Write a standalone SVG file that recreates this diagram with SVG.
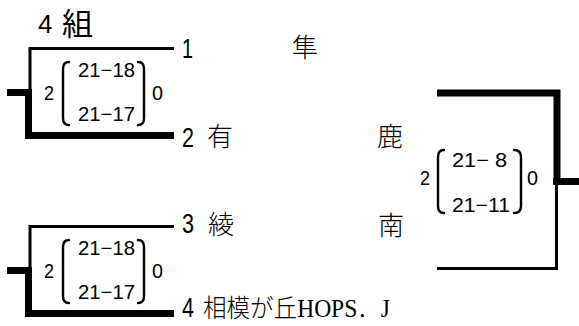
<svg xmlns="http://www.w3.org/2000/svg" width="579" height="326" viewBox="0 0 579 326">
<style>
.bg{fill:#fff}
.thin{fill:none;stroke:#000;stroke-width:3;stroke-linecap:butt;stroke-linejoin:miter}
.thick{fill:none;stroke:#000;stroke-width:7;stroke-linecap:butt;stroke-linejoin:miter}
.br{fill:none;stroke:#000;stroke-width:2.4;stroke-linecap:round}
.num{font-family:"Liberation Sans","Noto Sans CJK JP",sans-serif;font-size:28px;fill:#000}
.name{font-family:"Noto Sans CJK JP","Liberation Sans",sans-serif;font-size:26px;font-weight:300;fill:#000}
.mincho{font-family:"Liberation Serif","Noto Sans CJK JP",serif;font-size:25px;font-weight:300;fill:#000}
.sc{font-family:"Liberation Sans","Noto Sans CJK JP",sans-serif;font-size:20px;fill:#000}
.t4{font-family:"Liberation Sans",sans-serif;font-size:26px}
.tk{font-family:"Noto Sans CJK JP",sans-serif;font-size:31px}
</style>
<rect class="bg" x="0" y="0" width="579" height="326"/>
<g id="title">
<text x="38 62" y="33" fill="#000"><tspan class="t4">4</tspan><tspan class="tk" y="35">組</tspan></text>
</g>
<g id="connectors">
<path class="thin" d="M174 48.5H30V92"/>
<path class="thick" d="M28.5 89V135.5H174"/>
<path class="thick" d="M7 92.5H32"/>
<path class="thin" d="M174 226.5H30V270"/>
<path class="thick" d="M28.5 267V313.5H174"/>
<path class="thick" d="M7 270.5H32"/>
<path class="thick" d="M437 93H557V185"/>
<path class="thick" d="M553 181.5H579"/>
<path class="thin" d="M556.5 181V268.5H437"/>
</g>
<g id="team1">
<text class="num" x="182" y="58" textLength="11" lengthAdjust="spacingAndGlyphs">1</text>
<text class="name" x="292" y="57">隼</text>
</g>
<g id="team2">
<text class="num" x="182" y="147" textLength="12" lengthAdjust="spacingAndGlyphs">2</text>
<text class="name" x="207" y="146">有</text>
<text class="name" x="377" y="146">鹿</text>
</g>
<g id="team3">
<text class="num" x="182" y="233" textLength="12" lengthAdjust="spacingAndGlyphs">3</text>
<text class="name" x="208" y="234">綾</text>
<text class="name" x="378" y="235">南</text>
</g>
<g id="team4">
<text class="num" x="182" y="317" textLength="12" lengthAdjust="spacingAndGlyphs">4</text>
<text class="mincho" x="203" y="317" textLength="187" lengthAdjust="spacingAndGlyphs">相模が丘HOPS．J</text>
</g>
<g id="score1">
<text class="sc" x="44" y="100" textLength="10" lengthAdjust="spacingAndGlyphs">2</text>
<path class="br" d="M69 62Q63 62 63 69V118Q63 125 69 125"/>
<text class="sc" x="78" y="77" textLength="57" lengthAdjust="spacingAndGlyphs">21−18</text>
<text class="sc" x="78" y="121" textLength="57" lengthAdjust="spacingAndGlyphs">21−17</text>
<path class="br" d="M138 62Q144 62 144 69V118Q144 125 138 125"/>
<text class="sc" x="152" y="100" textLength="11" lengthAdjust="spacingAndGlyphs">0</text>
</g>
<g id="score3">
<text class="sc" x="44" y="278" textLength="10" lengthAdjust="spacingAndGlyphs">2</text>
<path class="br" d="M69 240Q63 240 63 247V296Q63 303 69 303"/>
<text class="sc" x="78" y="255" textLength="57" lengthAdjust="spacingAndGlyphs">21−18</text>
<text class="sc" x="78" y="299" textLength="57" lengthAdjust="spacingAndGlyphs">21−17</text>
<path class="br" d="M138 240Q144 240 144 247V296Q144 303 138 303"/>
<text class="sc" x="152" y="278" textLength="11" lengthAdjust="spacingAndGlyphs">0</text>
</g>
<g id="score2">
<text class="sc" x="420" y="185" textLength="10" lengthAdjust="spacingAndGlyphs">2</text>
<path class="br" d="M444 150Q438 150 438 157V206Q438 213 444 213"/>
<text class="sc" x="452" y="167" textLength="55" lengthAdjust="spacingAndGlyphs">21− 8</text>
<text class="sc" x="452" y="212" textLength="58" lengthAdjust="spacingAndGlyphs">21−11</text>
<path class="br" d="M514 150Q521 150 521 157V206Q521 213 514 213"/>
<text class="sc" x="527" y="185" textLength="11" lengthAdjust="spacingAndGlyphs">0</text>
</g>
</svg>
